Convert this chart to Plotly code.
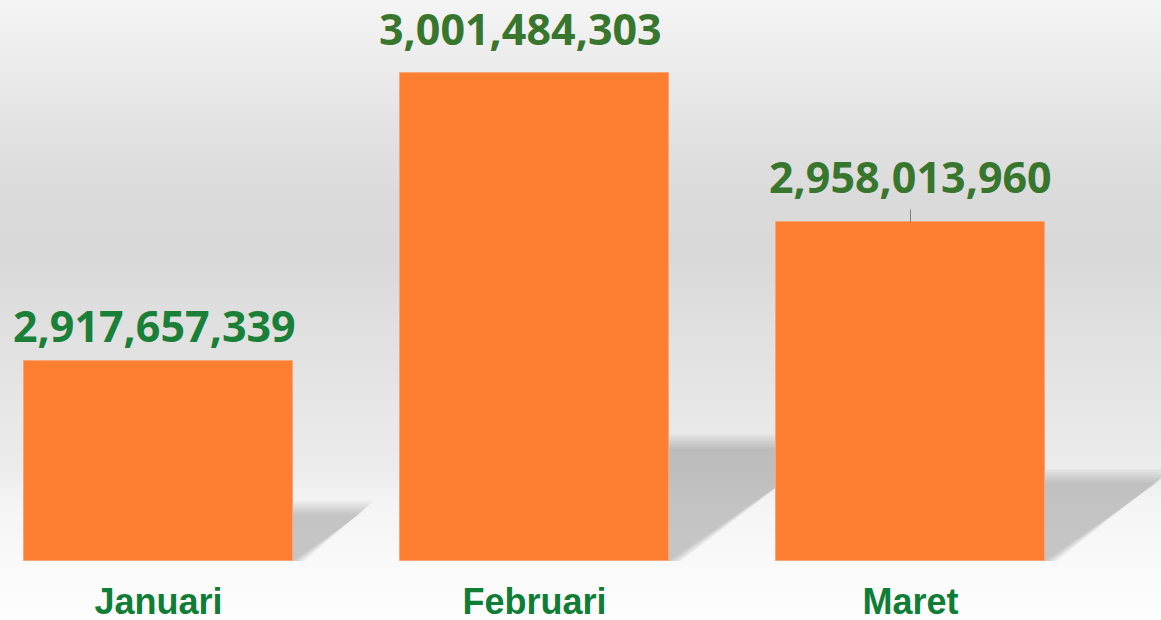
import plotly.graph_objects as go

months = ["Januari", "Februari", "Maret"]
values = [2917657339, 3001484303, 2958013960]
label_colors = ["#1a7f37", "#38762e", "#38762e"]

W, H = 1161, 620
MB = 59
plot_h = H - MB
px_per_unit = 3.432e-6
y_base = 2859.38e6
y_top = y_base + plot_h / px_per_unit
bar_w = 0.713
unit_px = 376.0
x_left = -158.5 / unit_px
x_right = x_left + W / unit_px

fig = go.Figure()
fig.add_trace(go.Bar(
    x=list(range(len(months))), y=[v - y_base for v in values], base=y_base,
    width=bar_w, marker=dict(color="#fe7f31", line=dict(color="#f7a574", width=1)),
    hoverinfo="skip", showlegend=False,
))

shapes = []
# background gradient bands
stops = [(0, 244), (60, 236), (130, 226), (200, 218), (260, 217), (320, 223),
         (400, 230), (470, 236), (500, 244), (560, 249), (620, 253)]
def gray_at(y):
    for (y0, g0), (y1, g1) in zip(stops[:-1], stops[1:]):
        if y0 <= y <= y1:
            return g0 + (g1 - g0) * (y - y0) / (y1 - y0)
    return stops[-1][1]
step = 4
for yy in range(0, H, step):
    g = int(round(gray_at(yy + step / 2)))
    shapes.append(dict(type="rect", xref="paper", yref="paper", layer="below",
                       x0=-0.01, x1=1.01,
                       y0=1 - (yy + step) / plot_h, y1=1 - yy / plot_h,
                       fillcolor=f"rgb({g},{g},{g})", line=dict(width=0)))

# soft shadows behind bars
for i, v in enumerate(values):
    bar_px = (v - y_base) * px_per_unit
    h = 0.23 * bar_px
    w = 1.45 * h
    xr = i + bar_w / 2
    n = 10
    for k in range(n):
        e = (n - 1 - k) * 1.6
        ex = e / unit_px
        ey = e / px_per_unit
        x0 = xr - 0.2
        p = [
            (x0, y_base),
            (x0, y_base + h / px_per_unit + ey),
            (xr + (w + e) / unit_px, y_base + h / px_per_unit + ey),
            (xr + ex * 0.5, y_base - ey * 0.3),
        ]
        path = "M " + " L ".join(f"{a},{b}" for a, b in p) + " Z"
        shapes.append(dict(type="path", xref="x", yref="y", layer="below", path=path,
                           fillcolor="rgba(125,125,125,0.045)", line=dict(width=0)))

# leader line for Maret label
shapes.append(dict(type="line", xref="x", yref="y", x0=2, x1=2,
                   y0=values[2], y1=values[2] + 13 / px_per_unit,
                   line=dict(color="#808080", width=1)))

annotations = []
xshifts = [-4, -14, 0]
yshifts = [5, 14, 15]
for i, v in enumerate(values):
    annotations.append(dict(x=i, y=v, xref="x", yref="y", text=f"{v:,}",
                            showarrow=False, yanchor="bottom", xanchor="center",
                            xshift=xshifts[i], yshift=yshifts[i], borderpad=0,
                            font=dict(family="Open Sans", size=43, color=label_colors[i], weight="bold")))

fig.update_layout(
    width=W, height=H,
    margin=dict(l=0, r=0, t=0, b=MB, pad=0),
    paper_bgcolor="#fdfdfd", plot_bgcolor="rgba(0,0,0,0)",
    shapes=shapes, annotations=annotations,
    bargap=0,
    xaxis=dict(range=[x_left, x_right], tickmode="array", tickvals=list(range(len(months))),
               ticktext=months, showgrid=False, zeroline=False, showline=False, ticks="",
               ticklabelstandoff=16, automargin=False,
               tickfont=dict(family="Liberation Sans", size=36, color="#0f7d36", weight="bold"),
               fixedrange=True),
    yaxis=dict(range=[y_base, y_top], visible=False, showgrid=False, zeroline=False,
               automargin=False, fixedrange=True),
)

fig.write_html("out.html", config={"displayModeBar": False},
               post_script="document.body.style.margin='0';document.body.style.overflow='hidden';")
